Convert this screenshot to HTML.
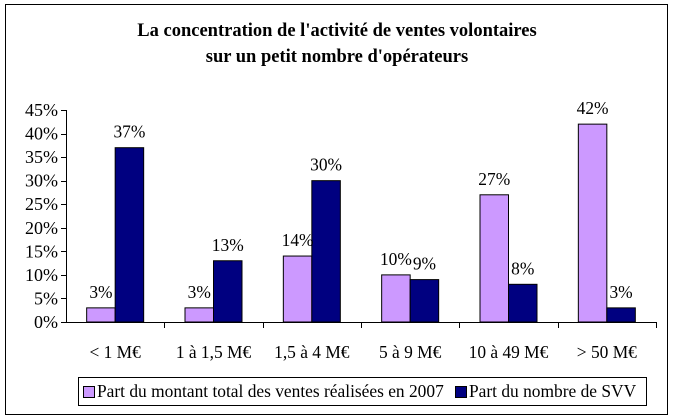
<!DOCTYPE html>
<html><head><meta charset="utf-8"><style>
body{margin:0;background:#fff;font-family:"Liberation Serif",serif;}
svg{display:block}
</style></head><body>
<svg id="c" width="673" height="420" xmlns="http://www.w3.org/2000/svg">
<rect x="5.5" y="4.5" width="662" height="410" fill="#fff" stroke="#000"/>
<text x="337" y="36" text-anchor="middle" font-size="18.5" font-weight="bold">La concentration de l'activité de ventes volontaires</text>
<text x="337" y="62" text-anchor="middle" font-size="18.5" font-weight="bold">sur un petit nombre d'opérateurs</text>
<g id="plot"></g>
<rect x="78.5" y="377.5" width="568" height="28" fill="#fff" stroke="#000"/>
<rect x="83.5" y="386.5" width="11" height="11" fill="#cc99ff" stroke="#000"/>
<text x="97" y="397" font-size="17.4">Part du montant total des ventes réalisées en 2007</text>
<rect x="455.5" y="386.5" width="11" height="11" fill="#000080" stroke="#000"/>
<text x="469" y="397" font-size="17.4">Part du nombre de SVV</text>
</svg>
<script>
const categories=["< 1 M€","1 à 1,5 M€","1,5 à 4 M€","5 à 9 M€","10 à 49 M€","> 50 M€"];
const montant=[3,3,14,10,27,42];
const nombre=[37,13,30,9,8,3];
const ticks=[0,5,10,15,20,25,30,35,40,45];
const NS="http://www.w3.org/2000/svg";
const g=document.getElementById("plot");
const x0=66,x1=656,y0=322,yTop=110;
const cw=(x1-x0)/categories.length;
const y=v=>y0-(v/45)*(y0-yTop);
function el(t,a,txt){const e=document.createElementNS(NS,t);for(const k in a)e.setAttribute(k,a[k]);if(txt!=null)e.textContent=txt;g.appendChild(e);return e;}
const ya=el("line",{x1:x0+.5,y1:yTop,x2:x0+.5,y2:y0,stroke:"#000"});


ticks.forEach(t=>{
 const l=el("line",{x1:x0-5,x2:x0,y1:Math.round(y(t))+.5,y2:Math.round(y(t))+.5,stroke:"#000"});
 
 
 const tx=el("text",{x:x0-8,y:y(t)+6,"text-anchor":"end","font-size":18},t+"%");
 
 
});
const xa=el("line",{x1:x0,y1:y0+.5,x2:x1,y2:y0+.5,stroke:"#000"});


const bw=28.5;
categories.forEach((c,i)=>{
 const cx=x0+cw*i;
 const tk=el("line",{x1:Math.round(cx+cw)+.5,x2:Math.round(cx+cw)+.5,y1:y0,y2:y0+6,stroke:"#000"});
 
 
 const lb=el("text",{x:cx+cw/2,y:358,"text-anchor":"middle","font-size":17.4},c);
 
 
 const mid=cx+cw/2;
 const b1=el("rect",{x:mid-bw,y:y(montant[i]),width:bw,height:y0-y(montant[i]),fill:"#cc99ff",stroke:"#000"});
 
 
 const b2=el("rect",{x:mid,y:y(nombre[i]),width:bw,height:y0-y(nombre[i]),fill:"#000080",stroke:"#000"});
 
 
 const t1=el("text",{x:mid-bw/2,y:y(montant[i])-10,"text-anchor":"middle","font-size":17.4},montant[i]+"%");
 
 
 const t2=el("text",{x:mid+bw/2,y:y(nombre[i])-10,"text-anchor":"middle","font-size":17.4},nombre[i]+"%");
 
 
});
</script>
</body></html>
